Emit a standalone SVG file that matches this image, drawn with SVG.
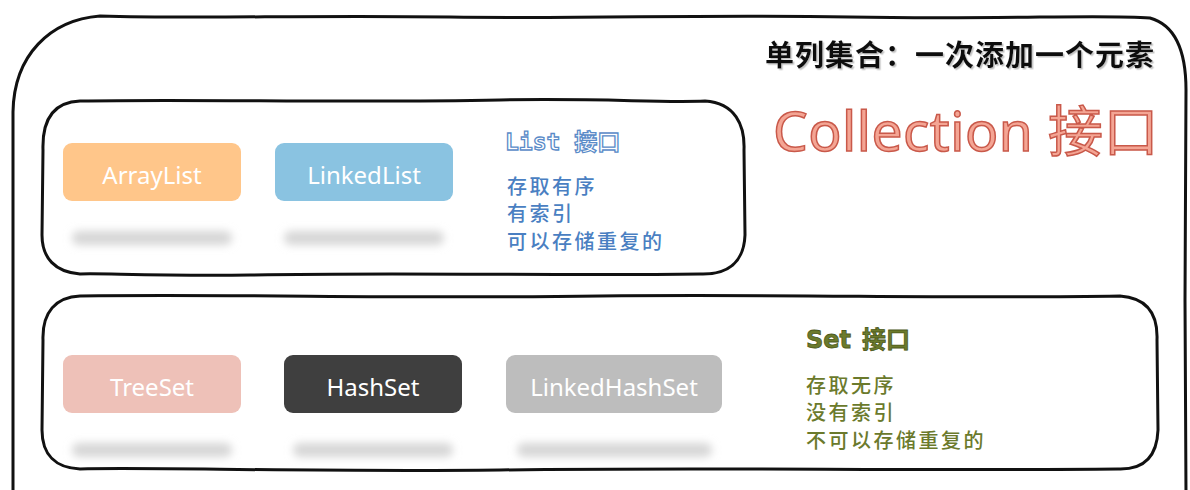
<svg xmlns="http://www.w3.org/2000/svg" width="1190" height="490" viewBox="0 0 1190 490">
<defs>
<style>
.frame{fill:none;stroke:#111;stroke-width:3;stroke-linecap:round;stroke-linejoin:round}
.node-label{font-family:"Noto Sans","Liberation Sans",sans-serif;font-size:24px;fill:#fff;text-anchor:middle;dominant-baseline:central}
.blue{font-family:"Noto Sans CJK SC",sans-serif;font-size:20px;font-weight:500;fill:#4A7FC2;letter-spacing:2.5px}
.olive{font-family:"Noto Sans CJK SC",sans-serif;font-size:20px;font-weight:500;fill:#6B7A2C;letter-spacing:2.5px}
.shadow{fill:#d6d6d6}
</style>
<filter id="blur" x="-20%" y="-100%" width="140%" height="300%"><feGaussianBlur stdDeviation="4"/></filter>
<filter id="ts" x="-5%" y="-20%" width="110%" height="140%"><feDropShadow dx="1.5" dy="1.5" stdDeviation="0.5" flood-color="#999" flood-opacity="0.6"/></filter>
</defs>
<rect width="1190" height="490" fill="#fff"/>
<g id="frames">
<path class="frame" d="M13,495 L13,112 C14,55 50,20 100,16 C200,19 300,15 450,17 C600,19 700,14 850,17 C1000,20 1100,14 1150,18 C1175,25 1186,50 1186,90 L1185,300 L1186,495"/>
<path class="frame" d="M80,101 C200,99 350,103 500,100 C600,98 660,103 705,101 C735,103 745,125 744,150 L745,235 C744,262 728,275 700,274 C550,276 400,272 250,275 C150,276 100,273 80,274 C55,272 42,258 42,235 L43,150 C42,118 55,102 80,101 Z"/>
<path class="frame" d="M80,296 C250,294 400,299 600,296 C800,294 950,299 1120,296 C1148,298 1158,315 1157,340 L1158,430 C1157,456 1145,470 1118,469 C900,471 700,467 500,470 C300,472 150,467 80,469 C56,468 42,455 42,430 L43,340 C42,312 56,297 80,296 Z"/>
</g>
<g id="title">
<text x="765" y="66" font-family="Noto Sans CJK SC,sans-serif" font-size="29" font-weight="bold" fill="#111" letter-spacing="1" filter="url(#ts)">单列集合：一次添加一个元素</text>
<text x="773" y="151" font-family="Noto Sans,Noto Sans CJK SC,sans-serif" font-size="55" fill="#F4A594" stroke="#C9594A" stroke-width="1.5" letter-spacing="0.5">Collection 接口</text>
</g>
<g id="list-info">
<text x="505" y="150" font-family="DejaVu Sans Mono,Noto Sans CJK SC,monospace" font-size="23" font-weight="bold" fill="#fff" stroke="#5A8BC8" stroke-width="1.3">List 接口</text>
<text class="blue" x="507" y="194">存取有序</text>
<text class="blue" x="507" y="221">有索引</text>
<text class="blue" x="507" y="249">可以存储重复的</text>
</g>
<g id="set-info">
<text y="348" font-family="DejaVu Sans,Noto Sans CJK SC,sans-serif" font-size="24" font-weight="bold" fill="#6B7A2C" stroke="#4E5A1C" stroke-width="0.8"><tspan x="806">Set</tspan><tspan x="862">接口</tspan></text>
<text class="olive" x="806" y="393">存取无序</text>
<text class="olive" x="806" y="420">没有索引</text>
<text class="olive" x="806" y="448">不可以存储重复的</text>
</g>
<g id="shadows">
<rect class="shadow" x="72" y="231" width="160" height="14" rx="7" filter="url(#blur)"/>
<rect class="shadow" x="284" y="231" width="160" height="14" rx="7" filter="url(#blur)"/>
<rect class="shadow" x="72" y="443" width="160" height="14" rx="7" filter="url(#blur)"/>
<rect class="shadow" x="293" y="443" width="160" height="14" rx="7" filter="url(#blur)"/>
<rect class="shadow" x="517" y="443" width="195" height="14" rx="7" filter="url(#blur)"/>
</g>
<g id="ArrayList">
<rect x="63" y="143" width="178" height="58" rx="9" fill="#FFC68A"/>
<text class="node-label" x="152" y="174">ArrayList</text>
</g>
<g id="LinkedList">
<rect x="275" y="143" width="178" height="58" rx="9" fill="#8AC3E1"/>
<text class="node-label" x="364" y="174">LinkedList</text>
</g>
<g id="TreeSet">
<rect x="63" y="355" width="178" height="58" rx="9" fill="#EEC1B8"/>
<text class="node-label" x="152" y="386">TreeSet</text>
</g>
<g id="HashSet">
<rect x="284" y="355" width="178" height="58" rx="9" fill="#3F3F3F"/>
<text class="node-label" x="373" y="386">HashSet</text>
</g>
<g id="LinkedHashSet">
<rect x="506" y="355" width="216" height="58" rx="9" fill="#BDBDBD"/>
<text class="node-label" x="614" y="386">LinkedHashSet</text>
</g>
<g id="connectors"/>
</svg>
